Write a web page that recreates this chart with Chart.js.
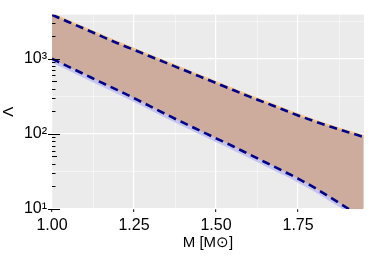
<!DOCTYPE html>
<html>
<head>
<meta charset="utf-8">
<script src="https://cdn.jsdelivr.net/npm/chart.js@4"></script>
<style>
 html,body{margin:0;padding:0;background:#fff;}
</style>
</head>
<body>
<canvas id="canvas_lambda" width="374" height="261"></canvas>
<script>
// data
var masses=[1.00,1.05,1.10,1.15,1.20,1.25,1.30,1.35,1.40,1.45,1.50,1.55,1.60,1.65,1.70,1.75,1.80,1.85,1.90,1.95];
var lambda_upper=[3840,3090,2490,2000,1610,1315,1070,875,713,582,475,387,316,260,214,176,147,124,106,91];
var lambda_lower=[1000,785,617,484,382,299,232,180,141,111,87.3,68.9,53.7,41.9,32.7,25.4,19.2,14.1,10.3,7.6];
var x_tick_values=[1.00,1.25,1.50,1.75];
var x_tick_labels=["1.00","1.25","1.50","1.75"];
var y_tick_values=[10,100,1000];
var y_tick_labels=["10\u00b9","10\u00b2","10\u00b3"];

// helpers
function points(ys){return masses.map(function(m,i){return {x:m,y:ys[i]};});}
function is_decade(v){var l=Math.log10(v);return Math.abs(l-Math.round(l))<1e-9;}
function is_major_x(v){return x_tick_values.some(function(t){return Math.abs(t-v)<1e-9;});}

// y ticks: 1..9 x 10^k plus half decades (for the minor grid)
var y_min=10,y_max=3870,y_all_ticks=[];
for(var k=1;k<=3;k++){
 for(var s=1;s<=9;s++){var v=s*Math.pow(10,k);if(v<=y_max){y_all_ticks.push(v);}}
 y_all_ticks.push(Math.pow(10,k+0.5));
}

// panel background and log ticks
var ggplot_panel={
 id:'ggplot_panel',
 beforeDraw:function(chart){
  var a=chart.chartArea,ctx=chart.ctx;
  ctx.save();
  ctx.fillStyle='#ebebeb';
  ctx.fillRect(a.left,a.top,a.right-a.left,a.bottom-a.top);
  ctx.restore();
 },
 afterDraw:function(chart){
  var y=chart.scales.y,a=chart.chartArea,ctx=chart.ctx;
  ctx.save();
  ctx.strokeStyle='#000';
  ctx.lineWidth=1;
  y_all_ticks.forEach(function(v){
   var l=Math.log10(v),sig=Math.round(v/Math.pow(10,Math.floor(l+1e-9)));
   if(Math.abs(v/Math.pow(10,Math.floor(l+1e-9))-sig)>1e-6){return;}
   var py=Math.round(y.getPixelForValue(v))+0.5,x0,x1;
   if(sig===1){x0=a.left-4;x1=a.left+8;}
   else if(sig===5){x0=a.left;x1=a.left+5;}
   else{x0=a.left;x1=a.left+3.5;}
   ctx.beginPath();ctx.moveTo(x0,py);ctx.lineTo(x1,py);ctx.stroke();
  });
  ctx.restore();
 }
};

var ctx=document.getElementById("canvas_lambda").getContext('2d');
var my_chart=new Chart(ctx,{
 type:'line',
 data:{
  datasets:[
   {label:'upper',data:points(lambda_upper),borderColor:'#00008b',borderWidth:2.6,borderDash:[8,5],pointRadius:0,fill:false},
   {label:'lower',data:points(lambda_lower),borderColor:'#00008b',borderWidth:2.6,borderDash:[8,5],pointRadius:0,fill:false},
   {label:'band',data:points(lambda_upper),borderWidth:0,borderColor:'rgba(0,0,0,0)',pointRadius:0,fill:{target:1,above:'#cdac9d',below:'#cdac9d'}},
   {label:'lower edge',data:points(lambda_lower),borderColor:'#c4c4ee',borderWidth:7,pointRadius:0,fill:false},
   {label:'upper edge',data:points(lambda_upper),borderColor:'#f3c98e',borderWidth:4,pointRadius:0,fill:false}
  ]
 },
 options:{
  responsive:false,
  animation:false,
  layout:{padding:{top:10,right:10,left:0,bottom:0}},
  elements:{line:{cubicInterpolationMode:'monotone'}},
  plugins:{legend:{display:false},tooltip:{enabled:false}},
  scales:{
   x:{
    type:'linear',min:1.0,max:1.951,
    afterFit:function(scale){scale.height=52;},
    border:{display:false},
    grid:{
     color:function(c){return c.tick&&is_major_x(c.tick.value)?'#ffffff':'rgba(255,255,255,0.75)';},
     lineWidth:function(c){return c.tick&&is_major_x(c.tick.value)?1.2:0.6;},
     tickColor:function(c){return c.tick&&is_major_x(c.tick.value)?'#333':'rgba(0,0,0,0)';},
     tickLength:3
    },
    ticks:{
     stepSize:0.125,includeBounds:false,autoSkip:false,maxRotation:0,padding:4,
     color:'#000',font:{family:'"Liberation Sans", Arial, sans-serif',size:16},
     callback:function(v){var i=x_tick_values.findIndex(function(t){return Math.abs(t-v)<1e-9;});return i<0?'':x_tick_labels[i];}
    },
    title:{display:true,text:'M [M\u2299]',color:'#000',font:{family:'"Liberation Sans", Arial, sans-serif',size:15},padding:{top:0,bottom:9}}
   },
   y:{
    type:'logarithmic',min:y_min,max:y_max,
    afterFit:function(scale){scale.width=52;},
    afterBuildTicks:function(scale){scale.ticks=y_all_ticks.map(function(v){return {value:v};});},
    border:{display:false},
    grid:{
     drawTicks:false,
     color:function(c){
      if(!c.tick){return 'rgba(0,0,0,0)';}
      var l=Math.log10(c.tick.value);
      if(is_decade(c.tick.value)){return '#ffffff';}
      if(Math.abs(l-Math.floor(l)-0.5)<1e-9){return 'rgba(255,255,255,0.75)';}
      return 'rgba(0,0,0,0)';
     },
     lineWidth:function(c){return c.tick&&is_decade(c.tick.value)?1.2:0.6;}
    },
    ticks:{
     autoSkip:false,padding:5,
     color:'#000',font:{family:'"Liberation Sans", Arial, sans-serif',size:16},
     callback:function(v){var i=y_tick_values.indexOf(v);return i<0?'':y_tick_labels[i];}
    },
    title:{display:true,text:'\u039b',color:'#000',font:{family:'"Liberation Sans", Arial, sans-serif',size:15},padding:0}
   }
  }
 },
 plugins:[ggplot_panel]
});
</script>
</body>
</html>
